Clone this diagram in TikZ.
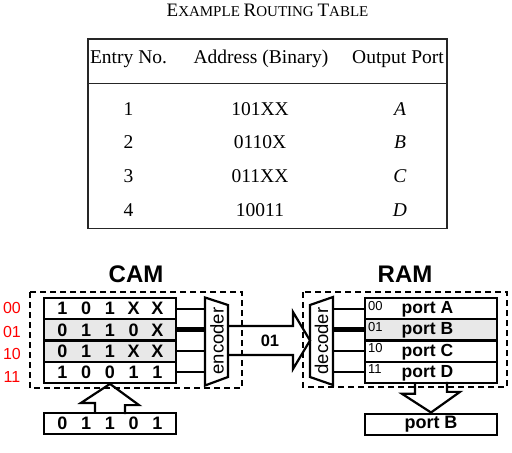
\documentclass[tikz,border=0pt]{standalone}
\usepackage{fontspec}
\setmainfont{Liberation Serif}
\newfontfamily\arial{Liberation Sans}
\definecolor{rowgray}{RGB}{232,232,232}
\newcommand\bits[5]{\makebox[23.75pt]{#1}\makebox[23.75pt]{#2}\makebox[23.75pt]{#3}\makebox[23.75pt]{#4}\makebox[23.75pt]{#5}}
\newcommand\fakesc[2]{{\fontsize{19}{22}\selectfont #1}{\fontsize{15}{18}\selectfont #2}}
\begin{document}
\begin{tikzpicture}[x=1pt,y=-1pt,line join=miter,
	serif/.style={font=\fontsize{19.5}{23}\selectfont, inner sep=0pt, anchor=base},
	cell/.style={draw, line width=2.2pt, minimum width=132pt, minimum height=21.2pt, inner sep=0pt, font=\arial\bfseries\fontsize{18}{21}\selectfont},
	lbl/.style={font=\arial\bfseries\fontsize{24}{28}\selectfont},
	idx/.style={text=red, font=\arial\fontsize{16}{19}\selectfont},
	addr/.style={font=\arial\fontsize{13}{15}\selectfont, inner sep=0pt, anchor=base west},
	port/.style={font=\arial\bfseries\fontsize{17.5}{20}\selectfont, inner sep=0pt, anchor=base},
	coder/.style={rotate=90, font=\arial\fontsize{18.5}{21}\selectfont, inner sep=0pt},
	dashbox/.style={line width=2.8pt, dash pattern=on 6pt off 4pt},
	wire/.style={line width=2.2pt},
	bus/.style={line width=5pt}]
	\useasboundingbox (0,0) rectangle (512,453);
	% routing table
	\node[anchor=base, font=\fontsize{15}{18}\selectfont] (title) at (267.5,16.7) {\fakesc{E}{XAMPLE} \fakesc{R}{OUTING} \fakesc{T}{ABLE}};
	\draw[line width=1.3pt, black!85] (88,39) rectangle (447,228.3);
	\draw[line width=1.3pt, black!85] (88,83.3)--(447,83.3);
	\node[serif] (h1) at (128.5,63.3) {Entry No.};
	\node[serif] (h2) at (261,63.3) {Address (Binary)};
	\node[serif] (h3) at (398,63.3) {Output Port};
	\node[serif] (e1) at (128.5,115) {1};
	\node[serif] (a1) at (260,115) {101XX};
	\node[serif] (o1) at (400,115) {\textit{A}};
	\node[serif] (e2) at (128.5,148.7) {2};
	\node[serif] (a2) at (260,148.7) {0110X};
	\node[serif] (o2) at (400,148.7) {\textit{B}};
	\node[serif] (e3) at (128.5,182.3) {3};
	\node[serif] (a3) at (260,182.3) {011XX};
	\node[serif] (o3) at (400,182.3) {\textit{C}};
	\node[serif] (e4) at (128.5,216) {4};
	\node[serif] (a4) at (260,216) {10011};
	\node[serif] (o4) at (400,216) {\textit{D}};
	% CAM
	\node[lbl] (cam) at (136,274) {CAM};
	\draw[dashbox] (30,292) rectangle (242,388);
	\node[cell] (c1) at (110,308.6) {\bits101XX};
	\node[cell,fill=rowgray] (c2) at (110,329.8) {\bits0110X};
	\node[cell,fill=rowgray] (c3) at (110,351) {\bits011XX};
	\node[cell] (c4) at (110,372.2) {\bits10011};
	\node[idx] (i0) at (12,308) {00};
	\node[idx] (i1) at (12,331.7) {01};
	\node[idx] (i2) at (12,354) {10};
	\node[idx] (i3) at (12,376.7) {11};
	\coordinate (encL) at (205,341);
	\draw[wire] (205,297.5)--(228,305)--(228,377)--(205,385.5)--cycle;
	\node[coder] (enc) at (217,341) {encoder};
	\draw[wire] (c1.east)--(c1.east -| encL);
	\draw[bus] (c2.east)--(c2.east -| encL);
	\draw[wire] (c3.east)--(c3.east -| encL);
	\draw[wire] (c4.east)--(c4.east -| encL);
	\node[cell] (key) at (110,423.5) {\bits01101};
	\draw[wire] ([xshift=-15pt]key.north)--++(0,-8.9)--++(-14,0)--(c4.south)--++(29,21.2)--++(-14,0)--++(0,8.9);
	% encoder -> decoder
	\coordinate (decL) at (310,340.5);
	\draw[wire] (228,326)--(293,326)--(293,312)--(decL)--(293,369)--(293,355)--(228,355);
	\node[font=\arial\bfseries\fontsize{16.5}{19}\selectfont] (code) at (270,340.5) {01};
	% RAM
	\node[lbl] (ram) at (405,274) {RAM};
	\draw[dashbox] (303,292) rectangle (507,387);
	\coordinate (decR) at (333,341);
	\draw[wire] (310,305)--(333,297)--(333,385)--(310,377)--cycle;
	\node[coder] (dec) at (321.5,341) {decoder};
	\node[cell] (r1) at (431,308.6) {};
	\node[cell,fill=rowgray] (r2) at (431,329.8) {};
	\node[cell] (r3) at (431,351) {};
	\node[cell] (r4) at (431,372.2) {};
	\draw[wire] (r1.west -| decR)--(r1.west);
	\draw[bus] (r2.west -| decR)--(r2.west);
	\draw[wire] (r3.west -| decR)--(r3.west);
	\draw[wire] (r4.west -| decR)--(r4.west);
	\node[addr] (m1) at (368,310) {00};
	\node[addr] (m2) at (368,331.2) {01};
	\node[addr] (m3) at (368,352.4) {10};
	\node[addr] (m4) at (368,373.6) {11};
	\node[port] (q1) at (427.5,313.6) {port A};
	\node[port] (q2) at (427.5,334.8) {port B};
	\node[port] (q3) at (427.5,356) {port C};
	\node[port] (q4) at (427.5,377.2) {port D};
	\node[cell] (out) at (431,424.2) {port B};
	\draw[wire] ([xshift=-16pt]r4.south)--++(0,9.9)--++(-13,0)--(out.north)--++(29,-20.65)--++(-13,0)--++(0,-9.9);
\end{tikzpicture}
\end{document}
